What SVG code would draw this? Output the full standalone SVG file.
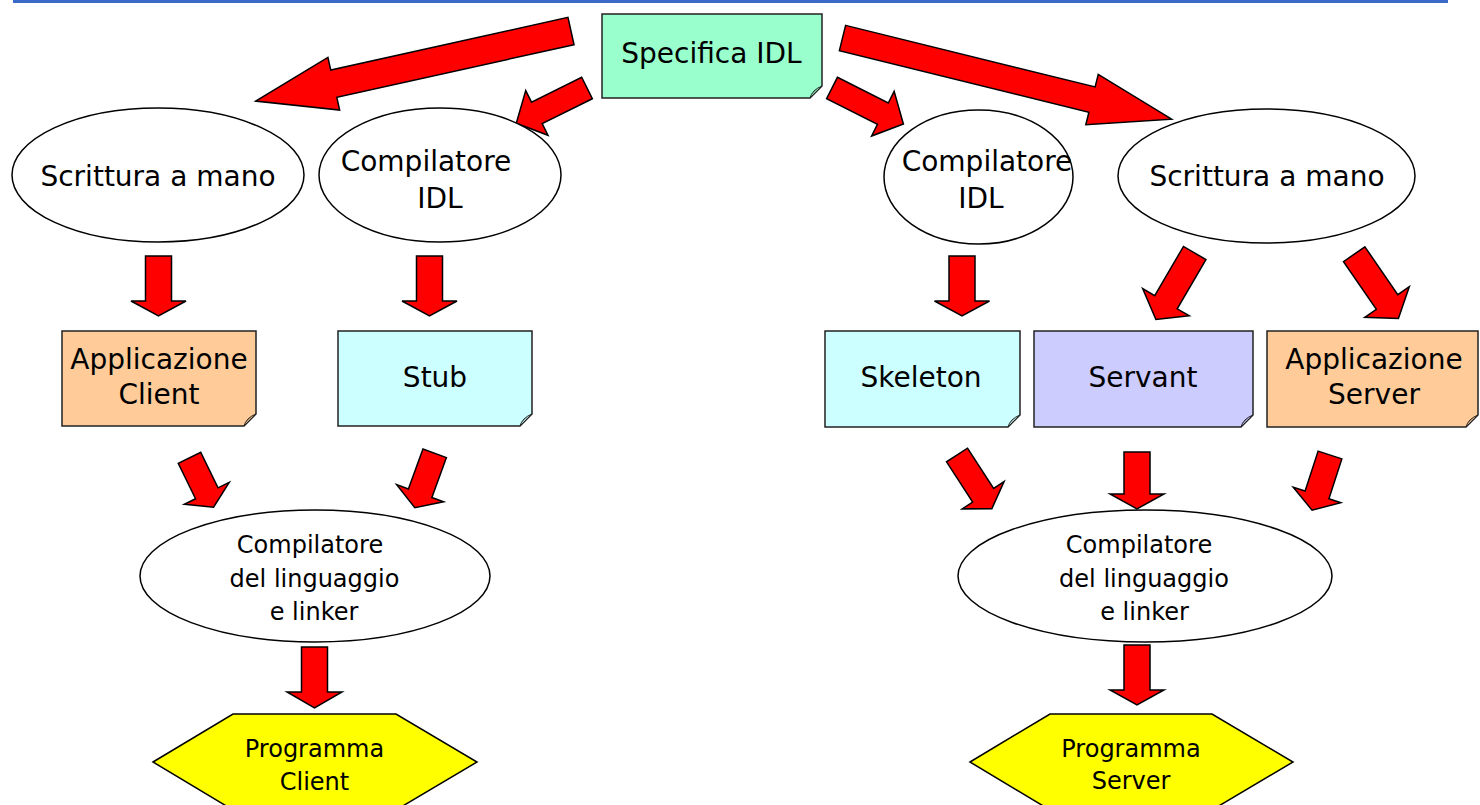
<svg xmlns="http://www.w3.org/2000/svg" width="1480" height="805" viewBox="0 0 1480 805">
<style>
text{font-family:"DejaVu Sans","Liberation Sans",sans-serif;fill:#000;text-anchor:middle}
.big{font-size:28px}
.sm{font-size:24px}
.ell{fill:#fff;stroke:#000;stroke-width:1.5}
.note{stroke:#222;stroke-width:1.5}
.fold{stroke:#222;stroke-width:1}
.arr{fill:#ff0000;stroke:#000;stroke-width:1.5;stroke-linejoin:miter}
.hex{fill:#ffff00;stroke:#000;stroke-width:1.5}
</style>
<rect x="0" y="0" width="1480" height="805" fill="#fff"/>
<rect x="13" y="0" width="1435" height="3" fill="#3a6bc9"/>

<g id="connectors">
  <polygon class="arr" points="0,-14 243,-14 243,-27 323,0 243,27 243,14 0,14" transform="translate(571,31) rotate(167.47)"/>
  <polygon class="arr" points="0,-12 56,-12 56,-25 79,0 56,25 56,12 0,12" transform="translate(587,88) rotate(153.56)"/>
  <polygon class="arr" points="0,-12 57,-12 57,-25 80,0 57,25 57,12 0,12" transform="translate(832,88) rotate(26.8)"/>
  <polygon class="arr" points="0,-13 257,-13 257,-26 339,0 257,26 257,13 0,13" transform="translate(842.5,38) rotate(13.86)"/>
  <polygon class="arr" points="0,-13 45,-13 45,-27.5 60,0 45,27.5 45,13 0,13" transform="translate(158.5,256) rotate(90)"/>
  <polygon class="arr" points="0,-13 45,-13 45,-27.5 60,0 45,27.5 45,13 0,13" transform="translate(429.5,256) rotate(90)"/>
  <polygon class="arr" points="0,-13 45,-13 45,-27.5 60,0 45,27.5 45,13 0,13" transform="translate(962,256) rotate(90)"/>
  <polygon class="arr" points="0,-13 57,-13 57,-27 77,0 57,27 57,13 0,13" transform="translate(1194.7,253) rotate(120.27)"/>
  <polygon class="arr" points="0,-13 58,-13 58,-27 78,0 58,27 58,13 0,13" transform="translate(1354.2,254.2) rotate(55.47)"/>
  <polygon class="arr" points="0,-12.5 39.5,-12.5 39.5,-25 55,0 39.5,25 39.5,12.5 0,12.5" transform="translate(189.5,457.8) rotate(64.04)"/>
  <polygon class="arr" points="0,-12.5 42.5,-12.5 42.5,-25 58,0 42.5,25 42.5,12.5 0,12.5" transform="translate(434.7,453.3) rotate(110.04)"/>
  <polygon class="arr" points="0,-12.5 48,-12.5 48,-25 64,0 48,25 48,12.5 0,12.5" transform="translate(957,455) rotate(57)"/>
  <polygon class="arr" points="0,-13 42,-13 42,-27 57,0 42,27 42,13 0,13" transform="translate(1137,452) rotate(90)"/>
  <polygon class="arr" points="0,-12.5 42,-12.5 42,-25 58,0 42,25 42,12.5 0,12.5" transform="translate(1330,455) rotate(108)"/>
  <polygon class="arr" points="0,-13 45,-13 45,-27.5 61,0 45,27.5 45,13 0,13" transform="translate(314.5,647) rotate(90)"/>
  <polygon class="arr" points="0,-13 45,-13 45,-27 60,0 45,27 45,13 0,13" transform="translate(1137,645) rotate(90)"/>
</g>

<g id="specifica">
  <path class="note" fill="#99ffcc" d="M602,14 H822 V86 L810,98 H602 Z"/>
  <path class="fold" fill="#7acca3" d="M822,86 L810,98 Q812,90 822,86 Z"/>
  <text class="big" x="711.5" y="63">Specifica IDL</text>
</g>

<g id="scrittura-client">
  <ellipse class="ell" cx="158" cy="175" rx="146" ry="67"/>
  <text class="big" x="158" y="186">Scrittura a mano</text>
</g>
<g id="compilatore-idl-client">
  <ellipse class="ell" cx="440" cy="175" rx="121" ry="67"/>
  <text class="big" x="426" y="171">Compilatore</text>
  <text class="big" x="440" y="208">IDL</text>
</g>
<g id="compilatore-idl-server">
  <ellipse class="ell" cx="978.5" cy="177" rx="94.5" ry="67"/>
  <text class="big" x="987" y="171">Compilatore</text>
  <text class="big" x="981" y="208">IDL</text>
</g>
<g id="scrittura-server">
  <ellipse class="ell" cx="1266.5" cy="176" rx="148.5" ry="67"/>
  <text class="big" x="1267" y="186">Scrittura a mano</text>
</g>

<g id="applicazione-client">
  <path class="note" fill="#ffcc99" d="M62,331 H256 V414 L244,426 H62 Z"/>
  <path class="fold" fill="#cca37a" d="M256,414 L244,426 Q246,418 256,414 Z"/>
  <text class="big" x="159" y="369">Applicazione</text>
  <text class="big" x="159" y="404">Client</text>
</g>
<g id="stub">
  <path class="note" fill="#ccffff" d="M338,331 H532 V414 L520,426 H338 Z"/>
  <path class="fold" fill="#a3cccc" d="M532,414 L520,426 Q522,418 532,414 Z"/>
  <text class="big" x="435" y="387">Stub</text>
</g>
<g id="skeleton">
  <path class="note" fill="#ccffff" d="M825,331 H1020 V415 L1008,427 H825 Z"/>
  <path class="fold" fill="#a3cccc" d="M1020,415 L1008,427 Q1010,419 1020,415 Z"/>
  <text class="big" x="921" y="387">Skeleton</text>
</g>
<g id="servant">
  <path class="note" fill="#ccccff" d="M1034,331 H1253 V415 L1241,427 H1034 Z"/>
  <path class="fold" fill="#a3a3cc" d="M1253,415 L1241,427 Q1243,419 1253,415 Z"/>
  <text class="big" x="1143" y="387">Servant</text>
</g>
<g id="applicazione-server">
  <path class="note" fill="#ffcc99" d="M1267,331 H1478 V415 L1466,427 H1267 Z"/>
  <path class="fold" fill="#cca37a" d="M1478,415 L1466,427 Q1468,419 1478,415 Z"/>
  <text class="big" x="1374" y="369">Applicazione</text>
  <text class="big" x="1374" y="404">Server</text>
</g>

<g id="compilatore-client">
  <ellipse class="ell" cx="315" cy="576" rx="175" ry="66"/>
  <text class="sm" x="310" y="553">Compilatore</text>
  <text class="sm" x="314.5" y="587">del linguaggio</text>
  <text class="sm" x="314" y="620">e linker</text>
</g>
<g id="compilatore-server">
  <ellipse class="ell" cx="1145" cy="576" rx="187" ry="66"/>
  <text class="sm" x="1139" y="553">Compilatore</text>
  <text class="sm" x="1144" y="587">del linguaggio</text>
  <text class="sm" x="1144.5" y="620">e linker</text>
</g>

<g id="programma-client">
  <polygon class="hex" points="153,762 233,714 396,714 477,762 396,810 233,810"/>
  <text class="sm" x="314.5" y="757">Programma</text>
  <text class="sm" x="314.5" y="790">Client</text>
</g>
<g id="programma-server">
  <polygon class="hex" points="970,762 1050,714 1212,714 1293,762 1212,810 1050,810"/>
  <text class="sm" x="1131" y="757">Programma</text>
  <text class="sm" x="1131" y="789">Server</text>
</g>
</svg>
